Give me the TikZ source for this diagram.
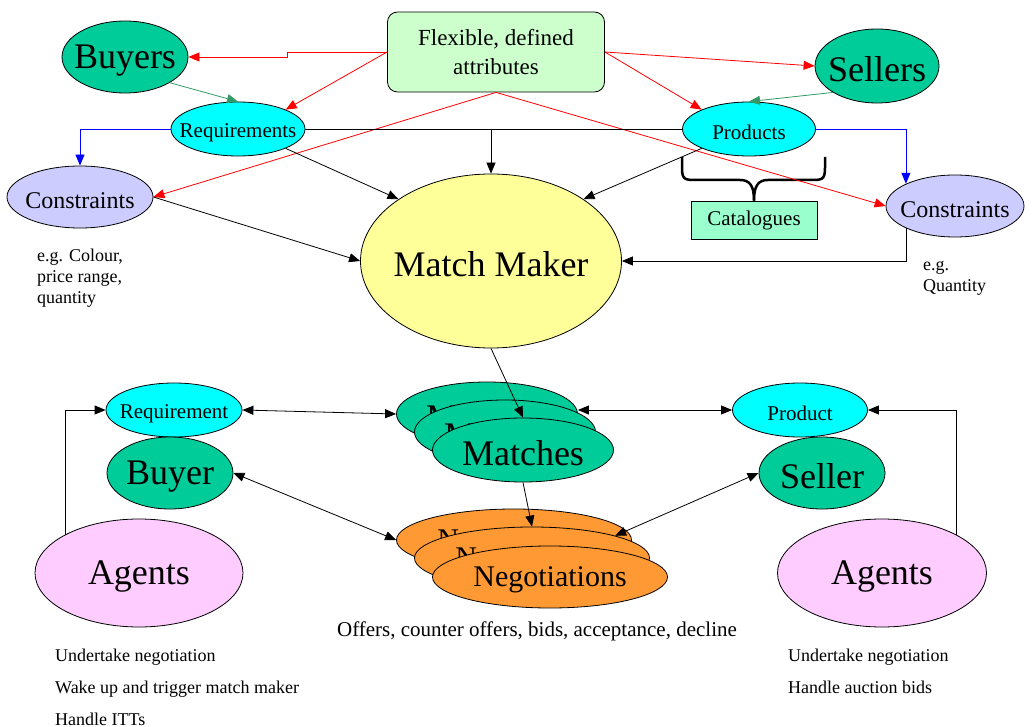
\documentclass[tikz,border=0pt]{standalone}
\usepackage{fontspec}
\setmainfont{Liberation Serif}
\usetikzlibrary{shapes.geometric,arrows.meta}
\definecolor{cgreen}{HTML}{00CC99}
\definecolor{ccyan}{HTML}{00FFFF}
\definecolor{clav}{HTML}{CCCCFF}
\definecolor{cyel}{HTML}{FFFF99}
\definecolor{cflex}{HTML}{CCFFCC}
\definecolor{ccat}{HTML}{99FFCC}
\definecolor{cpink}{HTML}{FFCCFF}
\definecolor{corange}{HTML}{FF9933}
\definecolor{cseag}{HTML}{339966}
\newcommand\myfs[1]{\fontsize{#1}{#1}\selectfont}
\begin{document}
\begin{tikzpicture}[x=1pt,y=-1pt,
  ell/.style={ellipse,draw,line width=0.8pt,inner sep=0pt},
  lab/.style={font=\myfs{#1},anchor=base,yshift=-0.33em,inner sep=0pt},
  tip/.style={-{Triangle[length=11pt,width=9pt]}},
  con/.style={line width=0.8pt,tip},
  dcon/.style={line width=0.8pt,{Triangle[length=11pt,width=9pt]}-{Triangle[length=11pt,width=9pt]}},
  redcon/.style={con,draw=red},
  greencon/.style={con,draw=cseag},
  bluecon/.style={con,draw=blue},
  txt/.style={inner sep=0pt,anchor=base west,font=\myfs{18}}
]
\useasboundingbox (0,0) rectangle (1034,727);

% top nodes
\node[draw,line width=0.8pt,rounded corners=10pt,fill=cflex,minimum width=217pt,minimum height=80pt,align=center,font=\fontsize{23}{29}\selectfont] (flex) at (496,52) {Flexible, defined\\attributes};
\node[ell,fill=cgreen,minimum width=126pt,minimum height=72pt,label={[lab=36]center:Buyers}] (buyers) at (125,57) {};
\node[ell,fill=cgreen,minimum width=124pt,minimum height=74pt,label={[lab=36]center:Sellers}] (sellers) at (877,66) {};
\node[ell,fill=ccyan,minimum width=134pt,minimum height=54pt,label={[lab=21]center:Requirements}] (req) at (238,129) {};
\node[ell,fill=ccyan,minimum width=133pt,minimum height=54pt,label={[lab=21]center:Products}] (prod) at (749,129) {};
\node[ell,fill=clav,minimum width=146pt,minimum height=62pt,label={[lab=24]center:Constraints}] (conL) at (80,197) {};
\node[ell,fill=clav,minimum width=138pt,minimum height=62pt,label={[lab=24]center:Constraints}] (conR) at (955,206) {};
\node[ell,fill=cyel,minimum width=261pt,minimum height=174pt,label={[lab=36]center:Match Maker}] (mm) at (491,261) {};
\node[draw,line width=0.8pt,fill=ccat,minimum width=126pt,minimum height=38pt,inner sep=0pt,font=\myfs{21}] (cat) at (754,220) {Catalogues};

% brace
\draw[line width=2.5pt] (682,157) -- (682,168) .. controls (682,180) and (685,180) .. (697,180) -- (740,180) .. controls (750,180) and (754,186) .. (cat.north);
\draw[line width=2.5pt] (825,157) -- (825,168) .. controls (825,180) and (822,180) .. (810,180) -- (768,180) .. controls (758,180) and (754,186) .. (cat.north);

% notes
\node[txt] (eg1) at (37,262) {e.g. Colour,};
\node[txt] (eg2) at (37,283) {price range,};
\node[txt] (eg3) at (37,304) {quantity};
\node[txt] (eg4) at (923,271) {e.g.};
\node[txt] (eg5) at (923,292) {Quantity};

% bottom nodes
\node[ell,fill=ccyan,minimum width=136pt,minimum height=54pt,label={[lab=21]center:Requirement}] (breq) at (174,410) {};
\node[ell,fill=cgreen,minimum width=126pt,minimum height=72pt,label={[lab=36]center:Buyer}] (buyer) at (170,473) {};
\node[ell,fill=cpink,minimum width=208pt,minimum height=108pt,label={[lab=36]center:Agents}] (agL) at (139,573) {};
\node[ell,fill=ccyan,minimum width=135pt,minimum height=54pt,label={[lab=21]center:Product}] (bprod) at (800,410) {};
\node[ell,fill=cgreen,minimum width=126pt,minimum height=72pt,label={[lab=36]center:Seller}] (seller) at (822,473) {};
\node[ell,fill=cpink,minimum width=209pt,minimum height=108pt,label={[lab=36]center:Agents}] (agR) at (882,573) {};

\node[ell,fill=cgreen,minimum width=181pt,minimum height=64pt,label={[lab=36]center:Matches}] (m1) at (487,414) {};
\node[ell,fill=cgreen,minimum width=181pt,minimum height=64pt,label={[lab=36]center:Matches}] (m2) at (505,432) {};
\node[ell,fill=cgreen,minimum width=181pt,minimum height=64pt,label={[lab=36]center:Matches}] (m3) at (523,450) {};

\node[ell,fill=corange,minimum width=235pt,minimum height=62pt,label={[lab=30]center:Negotiations}] (n1) at (514,540) {};
\node[ell,fill=corange,minimum width=235pt,minimum height=62pt,label={[lab=30]center:Negotiations}] (n2) at (532,558) {};
\node[ell,fill=corange,minimum width=235pt,minimum height=62pt,label={[lab=30]center:Negotiations}] (n3) at (550,577) {};

\node[inner sep=0pt,anchor=base,font=\myfs{21}] (offers) at (537,636) {Offers, counter offers, bids, acceptance, decline};
\node[txt] (u1) at (55,661) {Undertake negotiation};
\node[txt] (u2) at (55,693) {Wake up and trigger match maker};
\node[txt] (u3) at (55,725) {Handle ITTs};
\node[txt] (v1) at (788,661) {Undertake negotiation};
\node[txt] (v2) at (788,693) {Handle auction bids};

% top connectors
\draw[redcon] (flex.west) -- ++(-100,0) |- (buyers.east);
\draw[redcon] (flex.west) -- (req.north east);
\draw[redcon] (flex.south) -- (conL.east);
\draw[redcon] (flex.south) -- (conR.west);
\draw[redcon] (flex.east) -- (sellers.west);
\draw[redcon] (flex.east) -- (prod.north west);
\draw[greencon] (buyers.south east) -- (req.north);
\draw[greencon] (sellers.south west) -- (prod.north);
\draw[bluecon] (req.west) -| (conL.north);
\draw[bluecon] (prod.east) -| (conR.north west);
\draw[line width=0.8pt] (req.east) -- (prod.west);
\draw[con] (mm.north |- req.east) -- (mm.north);
\draw[con] (req.south east) -- (mm.north west);
\draw[con] (prod.south west) -- (mm.north east);
\draw[con] (conL.east) -- (mm.west);
\draw[con] (conR.south west) |- (mm.east);

% bottom connectors
\draw[con] (mm.south) -- (m3.north);
\draw[con] (m3.south) -- (n2.north);
\draw[dcon] (breq.east) -- (m1.west);
\draw[dcon] (bprod.west) -- (bprod.west -| m1.east);
\draw[dcon] (buyer.east) -- (n1.west);
\draw[dcon] (seller.west) -- (n2.15);
\draw[con] (agL.north west) |- (breq.west);
\draw[con] (agR.north east) |- (bprod.east);
\end{tikzpicture}
\end{document}
